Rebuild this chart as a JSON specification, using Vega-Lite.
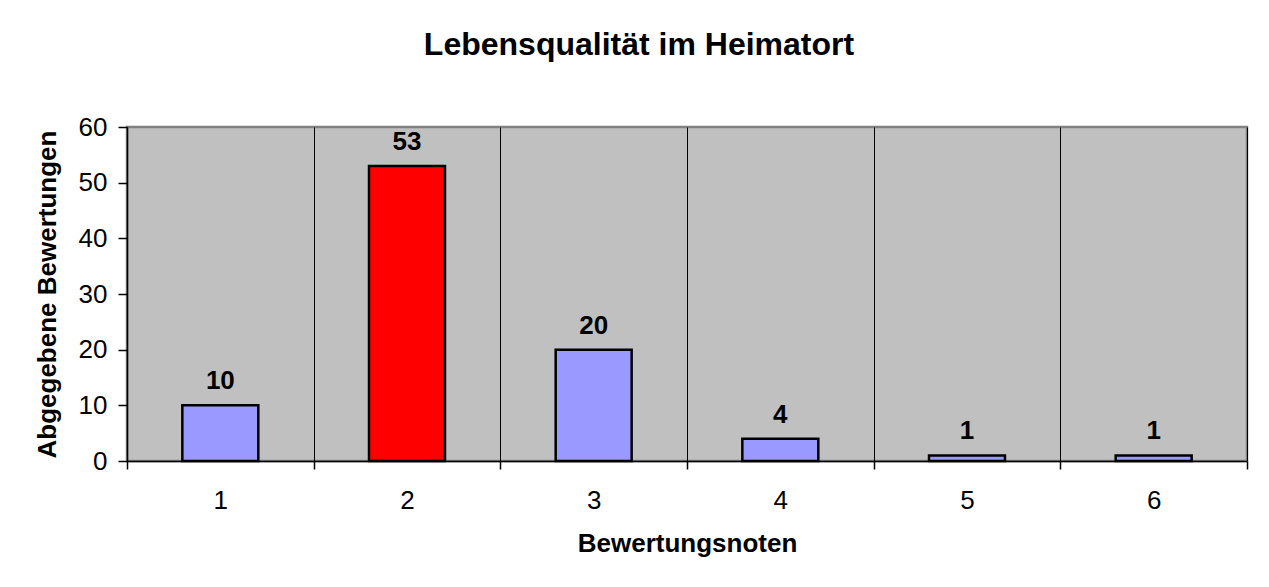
{
  "$schema": "https://vega.github.io/schema/vega-lite/v6.json",
  "width": 1120,
  "height": 334,
  "autosize": {"type": "none"},
  "padding": {"left": 127, "top": 127, "right": 22, "bottom": 126},
  "background": "white",
  "title": {
    "text": "Lebensqualität im Heimatort",
    "font": "Liberation Sans",
    "fontSize": 32,
    "fontWeight": "bold",
    "color": "black",
    "anchor": "middle",
    "frame": "group",
    "dx": -48,
    "offset": 52
  },
  "data": {
    "values": [
      {"note": "1", "count": 10},
      {"note": "2", "count": 53},
      {"note": "3", "count": 20},
      {"note": "4", "count": 4},
      {"note": "5", "count": 1},
      {"note": "6", "count": 1}
    ]
  },
  "encoding": {
    "x": {
      "field": "note",
      "type": "ordinal",
      "scale": {"paddingInner": 0, "paddingOuter": 0},
      "axis": {
        "title": "Bewertungsnoten",
        "labelAngle": 0,
        "tickBand": "extent",
        "tickExtra": true,
        "grid": true,
        "gridColor": "black",
        "gridWidth": 1,
        "gridOpacity": 1,
        "domainColor": "black",
        "domainWidth": 1.5,
        "tickColor": "black",
        "tickWidth": 1.5,
        "tickSize": 8,
        "labelFont": "Liberation Sans",
        "labelFontSize": 26,
        "labelColor": "black",
        "labelPadding": 18,
        "titleFont": "Liberation Sans",
        "titleFontSize": 26,
        "titleFontWeight": "bold",
        "titleColor": "black",
        "titlePadding": 17
      }
    },
    "y": {
      "field": "count",
      "type": "quantitative",
      "scale": {"domain": [0, 60], "nice": false},
      "axis": {
        "title": "Abgegebene Bewertungen",
        "values": [0, 10, 20, 30, 40, 50, 60],
        "grid": false,
        "domainColor": "black",
        "domainWidth": 1.5,
        "tickColor": "black",
        "tickWidth": 1.5,
        "tickSize": 9,
        "labelFont": "Liberation Sans",
        "labelFontSize": 26,
        "labelColor": "black",
        "labelPadding": 11,
        "titleFont": "Liberation Sans",
        "titleFontSize": 26,
        "titleFontWeight": "bold",
        "titleColor": "black",
        "titlePadding": 18
      }
    }
  },
  "layer": [
    {
      "mark": {"type": "bar", "stroke": "black", "strokeWidth": 2.5, "width": {"band": 0.407}},
      "encoding": {
        "color": {
          "condition": {"test": "datum.note === '2'", "value": "#FF0000"},
          "value": "#9999FF"
        }
      }
    },
    {
      "mark": {
        "type": "text",
        "font": "Liberation Sans",
        "fontSize": 26,
        "fontWeight": "bold",
        "color": "black",
        "baseline": "alphabetic",
        "dy": -16
      },
      "encoding": {"text": {"field": "count", "type": "quantitative"}}
    }
  ],
  "config": {
    "view": {"fill": "#C0C0C0", "stroke": "#808080", "strokeWidth": 2.5}
  }
}
